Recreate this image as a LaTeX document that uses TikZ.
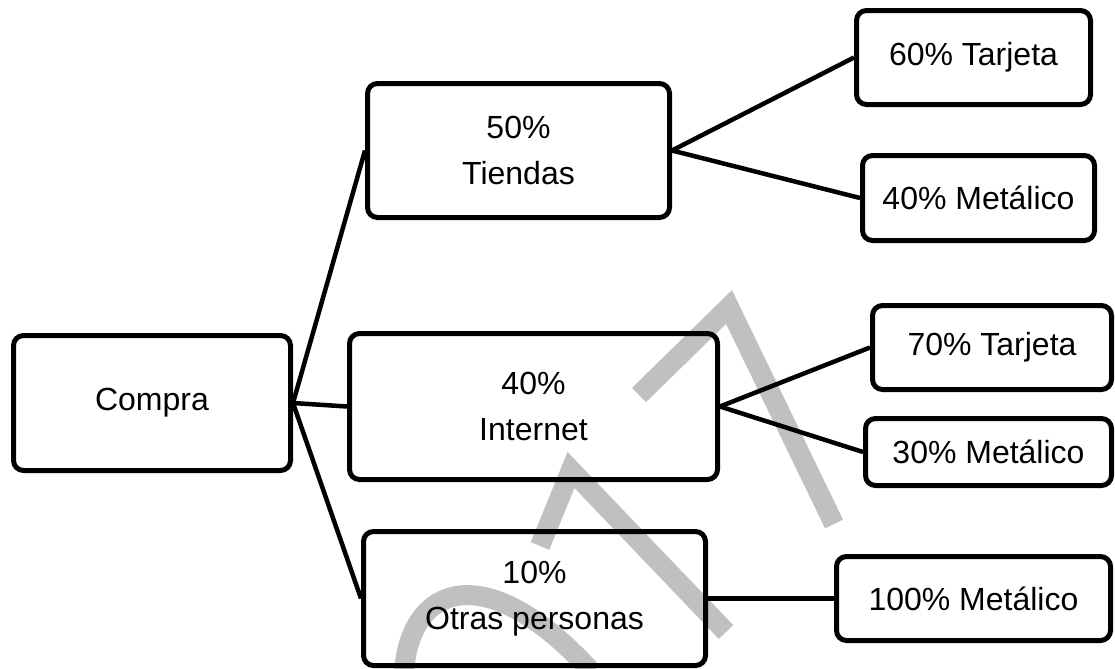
\documentclass[tikz,border=0pt]{standalone}
\usepackage{fontspec}
\setmainfont{Liberation Sans}
\definecolor{gris}{RGB}{192,192,192}

\begin{document}
\begin{tikzpicture}[x=0.5pt, y=-0.5pt,
  caja/.style={draw, rounded corners=5pt, line width=2.5pt, align=center,
    inner sep=0pt, font=\fontsize{16}{23}\selectfont},
  linea/.style={line width=2.25pt},
  marca/.style={draw=gris, line width=10pt, line join=miter}]
  \useasboundingbox (0,0) rectangle (1115,669);

  % marca de agua
  \draw[marca] (639,395) -- (729,307) -- (834,524);
  \draw[marca] (540,546) -- (571,470) -- (726,632);
  \draw[marca] (404,672) .. controls (410,585) and (485,555) .. (592,672);

  \node[caja, minimum width=138.5pt, minimum height=67.5pt] (c) at (152,403) {Compra};
  \node[caja, minimum width=151pt, minimum height=67pt] (t) at (518.5,150.5) {50\%\\Tiendas};
  \node[caja, minimum width=184pt, minimum height=73pt] (i) at (533.5,406.5) {40\%\\Internet};
  \node[caja, minimum width=171pt, minimum height=67pt] (o) at (534.5,598.5) {10\%\\Otras personas};
  \node[caja, minimum width=117pt, minimum height=47pt] (t1) at (973.5,57.5) {60\% Tarjeta};
  \node[caja, minimum width=116pt, minimum height=42.5pt] (t2) at (978.5,198) {40\% Metálico};
  \node[caja, minimum width=119.5pt, minimum height=42pt] (i1) at (992,347.5) {70\% Tarjeta};
  \node[caja, minimum width=123pt, minimum height=33.5pt] (i2) at (988.5,452) {30\% Metálico};
  \node[caja, minimum width=137pt, minimum height=42pt] (o1) at (973.5,598.5) {100\% Metálico};

  \path[linea]
  (c.east) edge (t.west)
  (c.east) edge (i.west)
  (c.east) edge (o.west)
  (t.east) edge (t1.west)
  (t.east) edge (t2.west)
  (i.east) edge (i1.west)
  (i.east) edge (i2.west)
  (o.east) edge (o1.west)
;
\end{tikzpicture}
\end{document}
